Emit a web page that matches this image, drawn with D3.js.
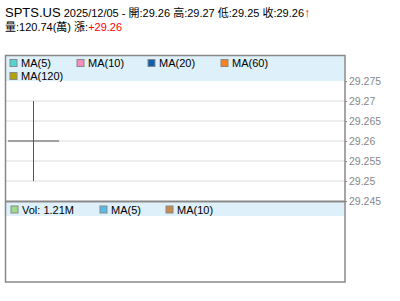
<!DOCTYPE html>
<head>
  <meta charset="utf-8">
  <style>
    body { margin: 0; background: #fff; }
    text { font-family: 'Liberation Sans', Arial, 'Noto Sans CJK TC', sans-serif; }
    .axis text { fill: #888; font-size: 10.5px; }
  </style>
</head>
<body>
  <script src="https://cdn.jsdelivr.net/npm/d3@7"></script>
  <script>
    // chart data
    const symbol = "SPTS.US";
    const dates = ["2025/12/05"];
    const opens = [29.26];
    const highs = [29.27];
    const lows = [29.25];
    const closes = [29.26];
    const volumeWan = 120.74;
    const change = "+29.26";
    const priceTicks = [29.245, 29.25, 29.255, 29.26, 29.265, 29.27, 29.275];
    const maLegend = ["MA(5)", "MA(10)", "MA(20)", "MA(60)", "MA(120)"];
    const maColors = ["#4fd6d3", "#f58dbd", "#0a5fb0", "#f7821f", "#b3a400"];
    const volLegend = ["Vol: 1.21M", "MA(5)", "MA(10)"];
    const volColors = ["#9ddc8c", "#56bdea", "#c88b4b"];

    const width = 400, height = 301;
    const frame = {left: 5.5, right: 345, top: 55.5, bottom: 282};
    const priceTop = 81, priceBottom = 201;

    const svg = d3.select("body").append("svg")
      .attr("width", width).attr("height", height);

    //---------------------------- header ----------------------------//
    const t1 = svg.append("text").attr("x", 5).attr("y", 17).style("font-size", "11px");
    t1.append("tspan").style("font-size", "13px").text(symbol);
    t1.append("tspan").text(" " + dates[0] + " - 開:" + opens[0].toFixed(2) +
      " 高:" + highs[0].toFixed(2) + " 低:" + lows[0].toFixed(2) + " 收:" + closes[0].toFixed(2));
    t1.append("tspan").attr("fill", "#f00").style("font-weight", "bold")
      .style("font-size", "13px").text("↑");

    const t2 = svg.append("text").attr("x", 5).attr("y", 31).style("font-size", "11px");
    t2.append("tspan").text("量:" + volumeWan.toFixed(2) + "(萬) 漲:");
    t2.append("tspan").attr("fill", "#f00").text(change);

    //---------------------------- scales ----------------------------//
    const x = d3.scaleBand().domain(dates).range([frame.left + 2.5, frame.left + 53.5]).padding(0);
    const y = d3.scaleLinear().domain([29.245, 29.275]).range([priceBottom, priceTop]);

    // grid
    svg.append("g").selectAll("line").data(priceTicks.slice(1, -1)).enter().append("line")
      .attr("x1", frame.left).attr("x2", frame.right)
      .attr("y1", d => y(d)).attr("y2", d => y(d))
      .attr("stroke", "#ddd");

    // candle (doji)
    const candle = svg.append("g");
    candle.selectAll("line.wick").data(dates).enter().append("line")
      .attr("class", "wick")
      .attr("x1", d => x(d) + x.bandwidth() / 2).attr("x2", d => x(d) + x.bandwidth() / 2)
      .attr("y1", (d, i) => y(highs[i])).attr("y2", (d, i) => y(lows[i]))
      .attr("stroke", "#555");
    candle.selectAll("line.body").data(dates).enter().append("line")
      .attr("class", "body")
      .attr("x1", d => x(d)).attr("x2", d => x(d) + x.bandwidth())
      .attr("y1", (d, i) => y(opens[i])).attr("y2", (d, i) => y(closes[i]))
      .attr("stroke", "#555");

    // price axis on the right
    svg.append("g").attr("class", "axis")
      .attr("transform", "translate(" + frame.right + ",0)")
      .call(d3.axisRight(y).tickValues(priceTicks).tickSize(2).tickPadding(2)
        .tickFormat(d => +d.toFixed(3) + ""))
      .call(g => g.select(".domain").remove())
      .call(g => g.selectAll(".tick line").attr("stroke", "#888"));

    //---------------------------- legends ----------------------------//
    svg.append("rect").attr("x", 6).attr("y", 56).attr("width", 338).attr("height", 25)
      .attr("fill", "#def0fa");
    const maX = [10, 77, 148, 221, 10];
    const maY = [59.5, 59.5, 59.5, 59.5, 72.5];
    const ml = svg.append("g").selectAll("g").data(maLegend).enter().append("g")
      .attr("transform", (d, i) => "translate(" + maX[i] + "," + maY[i] + ")");
    ml.append("rect").attr("width", 7).attr("height", 7)
      .attr("fill", (d, i) => maColors[i]).attr("stroke", "#888");
    ml.append("text").attr("x", 11).attr("y", 7.5).style("font-size", "11px").text(d => d);

    svg.append("rect").attr("x", 6).attr("y", 202.5).attr("width", 338).attr("height", 13.5)
      .attr("fill", "#def0fa");
    const volX = [11, 100, 166];
    const vl = svg.append("g").selectAll("g").data(volLegend).enter().append("g")
      .attr("transform", (d, i) => "translate(" + volX[i] + ",206)");
    vl.append("rect").attr("width", 7).attr("height", 7)
      .attr("fill", (d, i) => volColors[i]).attr("stroke", "#888");
    vl.append("text").attr("x", 11).attr("y", 7.5).style("font-size", "11px").text(d => d);

    //---------------------------- frame ----------------------------//
    svg.append("rect").attr("x", frame.left).attr("y", frame.top)
      .attr("width", frame.right - frame.left).attr("height", frame.bottom - frame.top)
      .attr("fill", "none").attr("stroke", "#888").attr("stroke-width", 1.5);
    svg.append("line").attr("x1", frame.left).attr("x2", frame.right)
      .attr("y1", priceBottom + 0.5).attr("y2", priceBottom + 0.5)
      .attr("stroke", "#888").attr("stroke-width", 2);
  </script>
</body>
